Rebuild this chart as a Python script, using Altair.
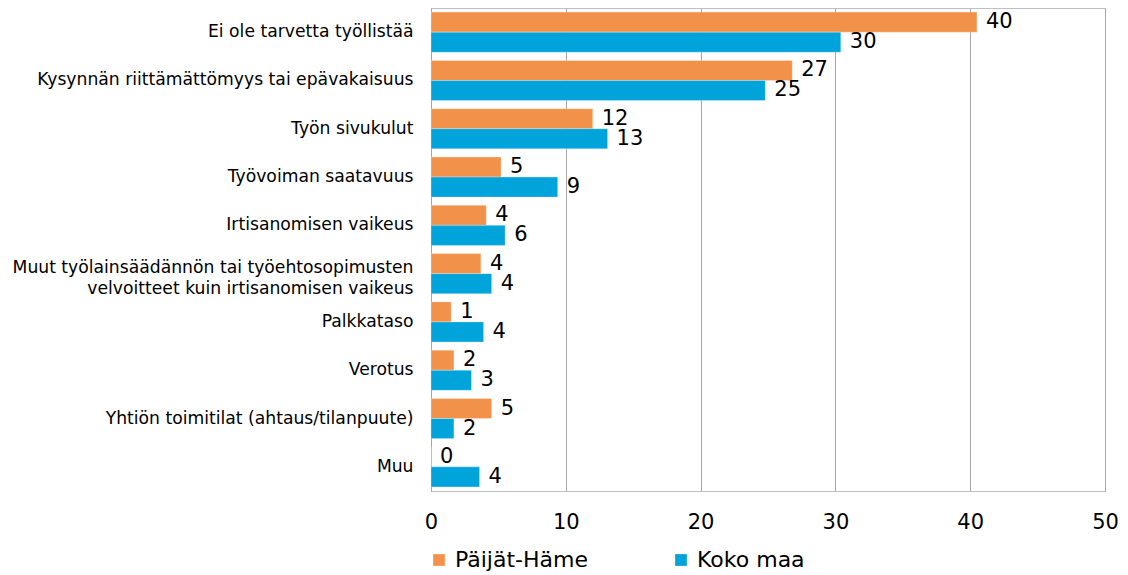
import altair as alt
import pandas as pd

categories = [
    "Ei ole tarvetta työllistää",
    "Kysynnän riittämättömyys tai epävakaisuus",
    "Työn sivukulut",
    "Työvoiman saatavuus",
    "Irtisanomisen vaikeus",
    "Muut työlainsäädännön tai työehtosopimusten\nvelvoitteet kuin irtisanomisen vaikeus\u00a0\u00a0\u00a0\u00a0\u00a0\u00a0\u00a0",
    "Palkkataso",
    "Verotus",
    "Yhtiön toimitilat (ahtaus/tilanpuute)",
    "Muu",
]
series = ["Päijät-Häme", "Koko maa"]
paijat_hame = [40.5, 26.8, 12.0, 5.2, 4.1, 3.7, 1.5, 1.7, 4.5, 0.0]
koko_maa = [30.4, 24.8, 13.1, 9.4, 5.5, 4.5, 3.9, 3.0, 1.7, 3.6]
paijat_hame_labels = ["40", "27", "12", "5", "4", "4", "1", "2", "5", "0"]
koko_maa_labels = ["30", "25", "13", "9", "6", "4", "4", "3", "2", "4"]
colors = ["#F29149", "#00A3DA"]
x_ticks = [0, 10, 20, 30, 40, 50]

rows = []
for i, c in enumerate(categories):
    rows.append({"cat": c, "series": series[0], "value": paijat_hame[i], "label": paijat_hame_labels[i]})
    rows.append({"cat": c, "series": series[1], "value": koko_maa[i], "label": koko_maa_labels[i]})
df = pd.DataFrame(rows)

FONT = "DejaVu Sans"

y_enc = alt.Y(
    "cat:N",
    sort=categories,
    title=None,
    scale=alt.Scale(paddingInner=0.17, paddingOuter=0.085),
    axis=alt.Axis(
        labelExpr="split(datum.label, '\\n')",
        labelFontSize=17.2,
        labelFont=FONT,
        labelColor="#000000",
        labelPadding=18,
        labelLimit=0,
        labelLineHeight=21,
        labelOffset={"condition": {"test": "indexof(datum.value, 'Muut') == 0", "value": -6}, "value": 0},
        ticks=False,
        domainColor="#A6A6A6",
        grid=False,
    ),
)
x_enc = alt.X(
    "value:Q",
    title=None,
    scale=alt.Scale(domain=[0, 50], nice=False),
    axis=alt.Axis(
        values=x_ticks,
        labelFontSize=21,
        labelFont=FONT,
        labelColor="#000000",
        labelPadding=20,
        ticks=False,
        domain=False,
        grid=True,
        gridColor="#A6A6A6",
        labelFlush=False,
    ),
)
yoff = alt.YOffset("series:N", sort=series)

bars = alt.Chart(df).mark_bar(stroke="#FFFFFF", strokeWidth=0.5, strokeOpacity=0.6).encode(
    y=y_enc,
    x=x_enc,
    yOffset=yoff,
    color=alt.Color(
        "series:N",
        sort=series,
        scale=alt.Scale(domain=series, range=colors),
        legend=alt.Legend(
            title=None,
            orient="none",
            direction="horizontal",
            legendX=-3,
            legendY=541,
            symbolType="square",
            symbolSize=137,
            symbolStrokeWidth=0,
            labelFontSize=22,
            labelFont=FONT,
            labelColor="#000000",
            labelOffset=5,
            columnPadding=81,
            padding=0,
        ),
    ),
)

labels = alt.Chart(df).mark_text(
    align="left", baseline="middle", dx=9, fontSize=21, font=FONT, color="#000000"
).encode(
    y=alt.Y("cat:N", sort=categories),
    x=alt.X("value:Q"),
    yOffset=yoff,
    text="label:N",
)

chart = (
    alt.layer(bars, labels)
    .properties(
        width=674,
        height=483,
        autosize=alt.AutoSizeParams(type="none"),
        padding={"left": 423, "top": 0, "right": 15, "bottom": 82},
    )
    .configure_view(stroke="#BFBFBF", strokeWidth=1)
)

chart.save("out.html", embed_options={"renderer": "svg", "actions": False})
